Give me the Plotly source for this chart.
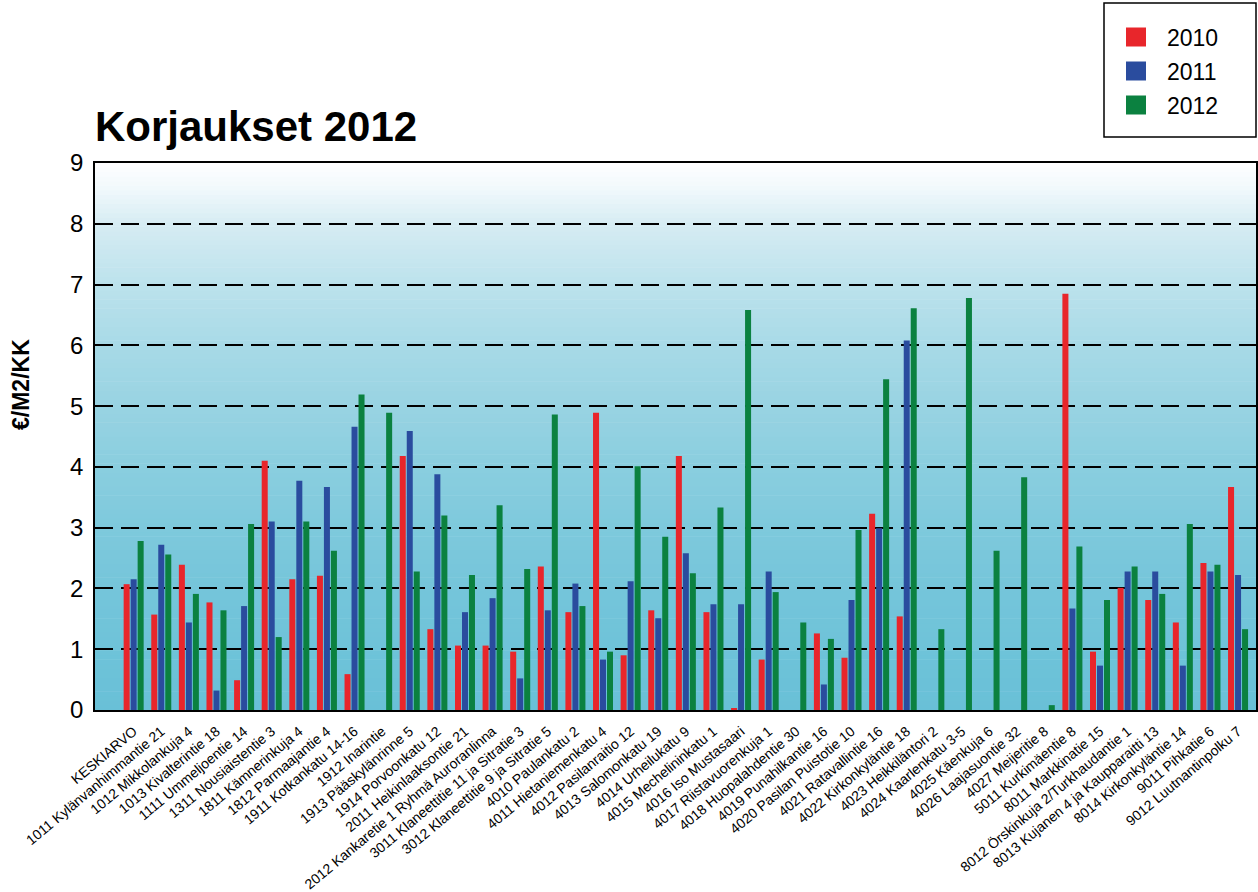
import plotly.graph_objects as go

categories = [
    "KESKIARVO",
    "1011 Kylänvanhimmantie 21",
    "1012 Mikkolankuja 4",
    "1013 Kivalterintie 18",
    "1111 Ummeljoentie 14",
    "1311 Nousiaistentie 3",
    "1811 Kämnerinkuja 4",
    "1812 Parmaajantie 4",
    "1911 Kotkankatu 14-16",
    "1912 Inarintie",
    "1913 Pääskylänrinne 5",
    "1914 Porvoonkatu 12",
    "2011 Heikinlaaksontie 21",
    "2012 Kankaretie 1 Ryhmä Auroranlinna",
    "3011 Klaneettitie 11 ja Sitratie 3",
    "3012 Klaneettitie 9 ja Sitratie 5",
    "4010 Paulankatu 2",
    "4011 Hietaniemenkatu 4",
    "4012 Pasilanraitio 12",
    "4013 Salomonkatu 19",
    "4014 Urheilukatu 9",
    "4015 Mechelininkatu 1",
    "4016 Iso Mustasaari",
    "4017 Riistavuorenkuja 1",
    "4018 Huopalahdentie 30",
    "4019 Punahilkantie 16",
    "4020 Pasilan Puistotie 10",
    "4021 Ratavallintie 16",
    "4022 Kirkonkyläntie 18",
    "4023 Heikkiläntori 2",
    "4024 Kaarlenkatu 3-5",
    "4025 Käenkuja 6",
    "4026 Laajasuontie 32",
    "4027 Meijeritie 8",
    "5011 Kurkimäentie 8",
    "8011 Markkinatie 15",
    "8012 Örskinkuja 2/Turkhaudantie 1",
    "8013 Kujanen 4 ja Kaupparaitti 13",
    "8014 Kirkonkyläntie 14",
    "9011 Pihkatie 6",
    "9012 Luutnantinpolku 7",
]

v2010 = [2.07, 1.57, 2.39, 1.77, 0.49, 4.10, 2.15, 2.21, 0.59, None,
         4.18, 1.33, 1.06, 1.06, 0.96, 2.36, 1.61, 4.89, 0.90, 1.64,
         4.18, 1.61, 0.02, 0.83, None, 1.26, 0.86, 3.23, 1.54, None,
         None, None, None, None, 6.85, 0.96, 2.01, 1.81, 1.44, 2.42, 3.67]
v2011 = [2.15, 2.72, 1.44, 0.32, 1.71, 3.10, 3.77, 3.67, 4.66, None,
         4.59, 3.88, 1.61, 1.84, 0.52, 1.64, 2.08, 0.83, 2.12, 1.51,
         2.58, 1.74, 1.74, 2.28, None, 0.42, 1.81, 2.99, 6.08, None,
         None, None, None, None, 1.67, 0.73, 2.28, 2.28, 0.73, 2.28, 2.22]
v2012 = [2.78, 2.56, 1.91, 1.64, 3.06, 1.20, 3.10, 2.62, 5.19, 4.89,
         2.28, 3.20, 2.22, 3.37, 2.32, 4.86, 1.71, 0.96, 4.01, 2.85,
         2.25, 3.33, 6.58, 1.94, 1.44, 1.17, 2.96, 5.44, 6.61, 1.33,
         6.78, 2.62, 3.83, 0.08, 2.69, 1.81, 2.36, 1.91, 3.06, 2.39, 1.33]

series_names = ["2010", "2011", "2012"]
series_values = [v2010, v2011, v2012]
colors = ["#E8262B", "#2A4C9E", "#0B8140"]

title_text = "Korjaukset 2012"
y_title = "€/M2/KK"

W, H = 1258, 892
L, R, T, B = 95, 1256, 163, 710

def px(x):
    return (x - L) / (R - L)

def py(y):
    return (B - y) / (B - T)

fig = go.Figure()
for name, vals, col in zip(series_names, series_values, colors):
    fig.add_bar(x=categories, y=vals, name=name, marker_color=col,
                marker_line_width=0, showlegend=False)

# background gradient (styling)
stops = [(0, (105, 192, 215)), (1, (110, 195, 217)), (2, (117, 197, 218)),
         (3, (126, 201, 220)), (4, (138, 206, 223)), (5, (152, 211, 226)),
         (6, (168, 218, 231)), (7, (188, 226, 236)), (8, (214, 236, 243)),
         (8.6, (242, 249, 252)), (9, (255, 255, 255))]

def col_at(v):
    for (a, ca), (b, cb) in zip(stops[:-1], stops[1:]):
        if a <= v <= b:
            t = (v - a) / (b - a)
            c = [round(ca[i] + (cb[i] - ca[i]) * t) for i in range(3)]
            return "rgb(%d,%d,%d)" % tuple(c)
    return "rgb(255,255,255)"

shapes = []
n = 120
for i in range(n):
    y0 = 9 * i / n
    y1 = 9 * (i + 1) / n
    shapes.append(dict(type="rect", xref="paper", yref="y", x0=0, x1=1,
                       y0=y0, y1=y1 + 0.01, fillcolor=col_at((y0 + y1) / 2),
                       line=dict(width=0), layer="below"))

# manual legend
shapes.append(dict(type="rect", xref="paper", yref="paper",
                   x0=px(1104), x1=px(1256), y0=py(137), y1=py(3),
                   line=dict(color="black", width=1.5), fillcolor="white"))
annotations = []
for i, (name, col) in enumerate(zip(series_names, colors)):
    cy = 37 + 34 * i
    shapes.append(dict(type="rect", xref="paper", yref="paper",
                       x0=px(1126), x1=px(1146), y0=py(cy + 9.5), y1=py(cy - 9.5),
                       line=dict(width=0), fillcolor=col))
    annotations.append(dict(text=name, xref="paper", yref="paper",
                            x=px(1165), y=py(cy + 1), xanchor="left", yanchor="middle",
                            showarrow=False, font=dict(size=23, color="black")))

annotations.append(dict(text="<b>%s</b>" % title_text, xref="paper", yref="paper",
                        x=px(93), y=py(126), xanchor="left", yanchor="middle",
                        showarrow=False, font=dict(size=42, color="black")))
annotations.append(dict(text="<b>%s</b>" % y_title, xref="paper", yref="paper",
                        x=px(21), y=py(385), xanchor="center", yanchor="middle",
                        textangle=-90, showarrow=False,
                        font=dict(size=23, color="black")))

fig.update_layout(
    width=W, height=H,
    margin=dict(l=L, r=W - R, t=T, b=H - B, autoexpand=False),
    paper_bgcolor="white", plot_bgcolor="white",
    font=dict(family="Liberation Sans, Arial, sans-serif", color="black"),
    barmode="group", bargap=0.24, bargroupgap=0.14,
    shapes=shapes, annotations=annotations, showlegend=False,
)
fig.update_xaxes(type="category", range=[-1.4, 40.65], tickangle=-40,
                 tickfont=dict(size=14), showgrid=False, ticks="",
                 ticklabelstandoff=6,
                 showline=True, mirror=True, linecolor="black", linewidth=1.5)
fig.update_yaxes(range=[0, 9], dtick=1, tickfont=dict(size=24),
                 showgrid=True, gridcolor="black", gridwidth=2,
                 griddash="18px,8px", zeroline=False, ticks="",
                 ticklabelstandoff=5,
                 showline=True, mirror=True, linecolor="black", linewidth=1.5)

fig.write_html("out.html", config={"displayModeBar": False},
               post_script="document.body.style.margin='0';document.body.style.overflow='hidden';")
